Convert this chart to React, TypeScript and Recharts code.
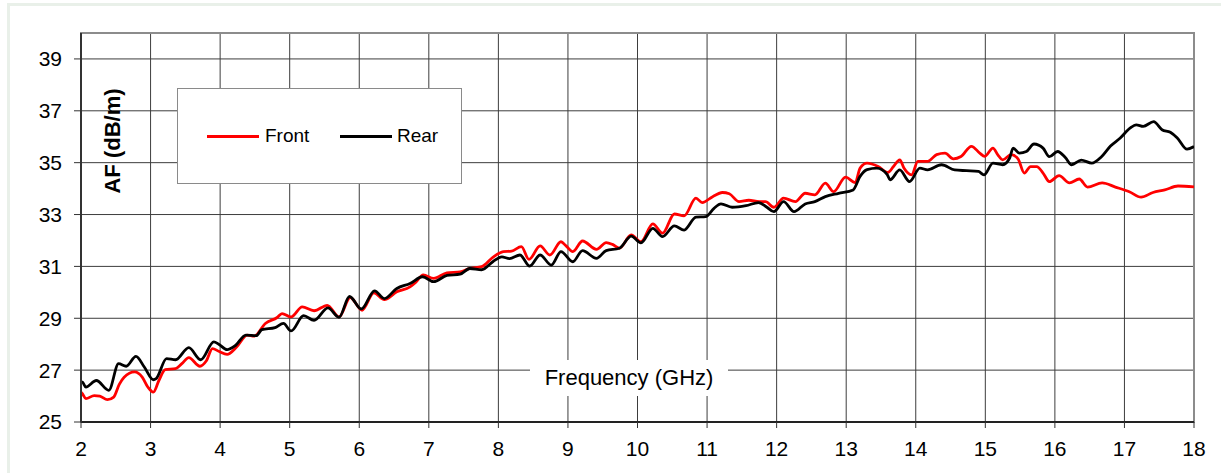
import React from "react";
import { LineChart, Line, XAxis, YAxis, CartesianGrid, ReferenceArea } from "recharts";

const xTicks = [2, 3, 4, 5, 6, 7, 8, 9, 10, 11, 12, 13, 14, 15, 16, 17, 18];
const yTicks = [25, 27, 29, 31, 33, 35, 37, 39];

const frontFreq = [
  2.0, 2.02, 2.07, 2.19, 2.27, 2.38, 2.47, 2.55, 2.62, 2.77, 2.88, 2.96, 3.04, 3.12, 3.21, 3.36, 3.45, 3.55, 3.71, 3.8,
  3.89, 3.98, 4.1, 4.24, 4.39, 4.49, 4.65, 4.82, 4.89, 5.02, 5.18, 5.35, 5.54, 5.71, 5.87, 6.04, 6.21, 6.36, 6.54, 6.73,
  6.81, 6.92, 7.07, 7.26, 7.45, 7.59, 7.76, 7.92, 8.07, 8.19, 8.33, 8.44, 8.6, 8.74, 8.9, 8.97, 9.07, 9.21, 9.41, 9.55,
  9.64, 9.74, 9.91, 10.05, 10.22, 10.36, 10.53, 10.67, 10.84, 10.93, 11.08, 11.22, 11.32, 11.46, 11.6, 11.75, 11.84, 11.96, 12.1, 12.27,
  12.41, 12.55, 12.7, 12.82, 12.99, 13.13, 13.2, 13.3, 13.46, 13.6, 13.68, 13.77, 13.83, 13.94, 14.03, 14.17, 14.3, 14.42, 14.54, 14.65,
  14.8, 14.92, 14.99, 15.11, 15.18, 15.25, 15.37, 15.47, 15.56, 15.65, 15.74, 15.83, 15.92, 16.06, 16.21, 16.35, 16.47, 16.68, 16.87, 17.07,
  17.24, 17.41, 17.58, 17.77, 18.0,
];
const frontAF = [
  26.15, 26.09, 25.9, 26.02, 26.0, 25.86, 25.96, 26.45, 26.73, 26.93, 26.73, 26.35, 26.15, 26.6, 27.02, 27.06, 27.25, 27.48, 27.15, 27.35,
  27.83, 27.73, 27.61, 27.9, 28.35, 28.31, 28.8, 29.03, 29.18, 29.05, 29.44, 29.29, 29.5, 29.05, 29.8, 29.31, 29.98, 29.72, 30.02, 30.21,
  30.38, 30.67, 30.54, 30.75, 30.79, 30.92, 30.99, 31.35, 31.57, 31.59, 31.76, 31.27, 31.79, 31.44, 31.95, 31.8, 31.57, 31.98, 31.66, 31.92,
  31.85, 31.7, 32.21, 31.95, 32.64, 32.28, 33.02, 32.95, 33.63, 33.46, 33.69, 33.85, 33.8, 33.5, 33.55, 33.5, 33.5, 33.28, 33.63, 33.5,
  33.82, 33.76, 34.21, 33.88, 34.44, 34.23, 34.79, 34.98, 34.85, 34.62, 34.85, 35.11, 34.79, 34.53, 35.05, 35.05, 35.31, 35.37, 35.15, 35.24,
  35.63, 35.37, 35.24, 35.56, 35.3, 35.11, 35.31, 35.15, 34.6, 34.85, 34.85, 34.6, 34.27, 34.5, 34.22, 34.37, 34.06, 34.22, 34.06, 33.88,
  33.67, 33.85, 33.95, 34.1, 34.07,
];

const rearFreq = [
  2.0, 2.02, 2.07, 2.22, 2.4, 2.54, 2.65, 2.79, 2.91, 3.04, 3.08, 3.23, 3.36, 3.55, 3.72, 3.91, 3.98, 4.1, 4.22, 4.37,
  4.52, 4.6, 4.79, 4.91, 5.02, 5.2, 5.35, 5.55, 5.71, 5.86, 6.03, 6.22, 6.36, 6.54, 6.73, 6.91, 7.07, 7.26, 7.45, 7.59,
  7.76, 7.92, 8.05, 8.16, 8.31, 8.45, 8.6, 8.76, 8.9, 9.07, 9.21, 9.41, 9.55, 9.74, 9.91, 10.05, 10.22, 10.36, 10.53, 10.67,
  10.84, 10.98, 11.1, 11.2, 11.36, 11.56, 11.74, 11.86, 11.96, 12.1, 12.25, 12.41, 12.55, 12.7, 12.89, 13.1, 13.2, 13.3, 13.44, 13.59,
  13.63, 13.77, 13.91, 14.06, 14.17, 14.37, 14.56, 14.73, 14.9, 14.98, 15.11, 15.25, 15.35, 15.4, 15.49, 15.59, 15.7, 15.83, 15.92, 16.04,
  16.15, 16.24, 16.38, 16.53, 16.67, 16.8, 16.94, 17.08, 17.17, 17.27, 17.42, 17.54, 17.66, 17.76, 17.9, 18.0,
];
const rearAF = [
  26.55, 26.54, 26.35, 26.6, 26.22, 27.25, 27.15, 27.53, 27.12, 26.63, 26.67, 27.44, 27.4, 27.87, 27.4, 28.09, 28.0, 27.79, 27.95, 28.35,
  28.33, 28.56, 28.64, 28.8, 28.51, 29.1, 28.92, 29.4, 29.04, 29.84, 29.36, 30.06, 29.76, 30.15, 30.34, 30.6, 30.41, 30.65, 30.7, 30.92,
  30.87, 31.18, 31.37, 31.3, 31.44, 31.01, 31.44, 31.05, 31.57, 31.18, 31.61, 31.31, 31.61, 31.7, 32.17, 31.91, 32.47, 32.15, 32.56, 32.4,
  32.9, 32.92, 33.24, 33.41, 33.28, 33.34, 33.46, 33.28, 33.11, 33.5, 33.11, 33.41, 33.5, 33.69, 33.82, 33.95, 34.47, 34.73, 34.79, 34.54,
  34.34, 34.72, 34.27, 34.79, 34.72, 34.92, 34.72, 34.69, 34.66, 34.53, 34.98, 34.92, 35.18, 35.56, 35.37, 35.43, 35.72, 35.56, 35.23, 35.43,
  35.2, 34.92, 35.1, 34.98, 35.23, 35.64, 35.95, 36.33, 36.46, 36.4, 36.58, 36.27, 36.17, 35.95, 35.52, 35.62,
];

const frontData = frontFreq.map((f, i) => ({ f, v: frontAF[i] }));
const rearData = rearFreq.map((f, i) => ({ f, v: rearAF[i] }));

const FONT = "'Liberation Sans', Arial, sans-serif";

export default function App() {
  return (
    <div style={{ position: "absolute", left: 0, top: 0, width: 1221, height: 473, background: "#fff", overflow: "hidden" }}>
      <div style={{ position: "absolute", left: 7, top: 3, right: 0, height: 3, background: "#e9f0e9" }} />
      <div style={{ position: "absolute", left: 7, top: 3, width: 3, bottom: 0, background: "#e9f0e9" }} />
      <div style={{ position: "absolute", left: 0, top: 0 }}>
        <LineChart width={1221} height={473} margin={{ top: 33, right: 27, left: 0, bottom: 0 }}>
          <CartesianGrid stroke="#3d3d3d" strokeWidth={1} />
          <ReferenceArea x1={2} x2={18} y1={25} y2={40} fill="none" stroke="#8c8c8c" strokeWidth={2} ifOverflow="visible" />
          <XAxis
            type="number"
            dataKey="f"
            domain={[2, 18]}
            ticks={xTicks}
            interval={0}
            height={51}
            allowDataOverflow
            axisLine={{ stroke: "#222", strokeWidth: 2 }}
            tickLine={{ stroke: "#333" }}
            tickSize={6}
            tickMargin={13}
            tick={{ fill: "#000", fontSize: 21, fontFamily: FONT }}
          />
          <YAxis
            type="number"
            domain={[25, 40]}
            ticks={yTicks}
            interval={0}
            width={81}
            allowDataOverflow
            axisLine={{ stroke: "#333", strokeWidth: 2 }}
            tickLine={{ stroke: "#333" }}
            tickSize={7}
            tickMargin={12}
            tick={{ fill: "#000", fontSize: 21, fontFamily: FONT }}
          />
          <Line data={frontData} dataKey="v" name="Front" type="monotone" stroke="#ff0000" strokeWidth={2.8} dot={false} isAnimationActive={false} />
          <Line data={rearData} dataKey="v" name="Rear" type="monotone" stroke="#000000" strokeWidth={2.8} dot={false} isAnimationActive={false} />
        </LineChart>
      </div>
      <div
        style={{
          position: "absolute",
          left: 177,
          top: 88,
          width: 285,
          height: 96,
          boxSizing: "border-box",
          border: "1px solid #8a8a8a",
          background: "#fff",
          fontFamily: FONT,
          fontSize: 19,
          color: "#000",
        }}
      >
        <div style={{ position: "absolute", left: 29, top: 46, width: 52, height: 3, background: "#ff0000" }} />
        <div style={{ position: "absolute", left: 87, top: 36, lineHeight: "22px" }}>Front</div>
        <div style={{ position: "absolute", left: 162, top: 46, width: 52, height: 3, background: "#000" }} />
        <div style={{ position: "absolute", left: 219, top: 36, lineHeight: "22px" }}>Rear</div>
      </div>
      <div
        style={{
          position: "absolute",
          left: 530,
          top: 360,
          width: 198,
          height: 36,
          background: "#fff",
          fontFamily: FONT,
          fontSize: 22,
          lineHeight: "36px",
          textAlign: "center",
          color: "#000",
        }}
      >
        Frequency (GHz)
      </div>
      <div
        style={{
          position: "absolute",
          left: 113,
          top: 141,
          transform: "translate(-50%, -50%) rotate(-90deg)",
          fontFamily: FONT,
          fontSize: 22,
          fontWeight: "bold",
          whiteSpace: "nowrap",
          color: "#000",
        }}
      >
        AF (dB/m)
      </div>
    </div>
  );
}
